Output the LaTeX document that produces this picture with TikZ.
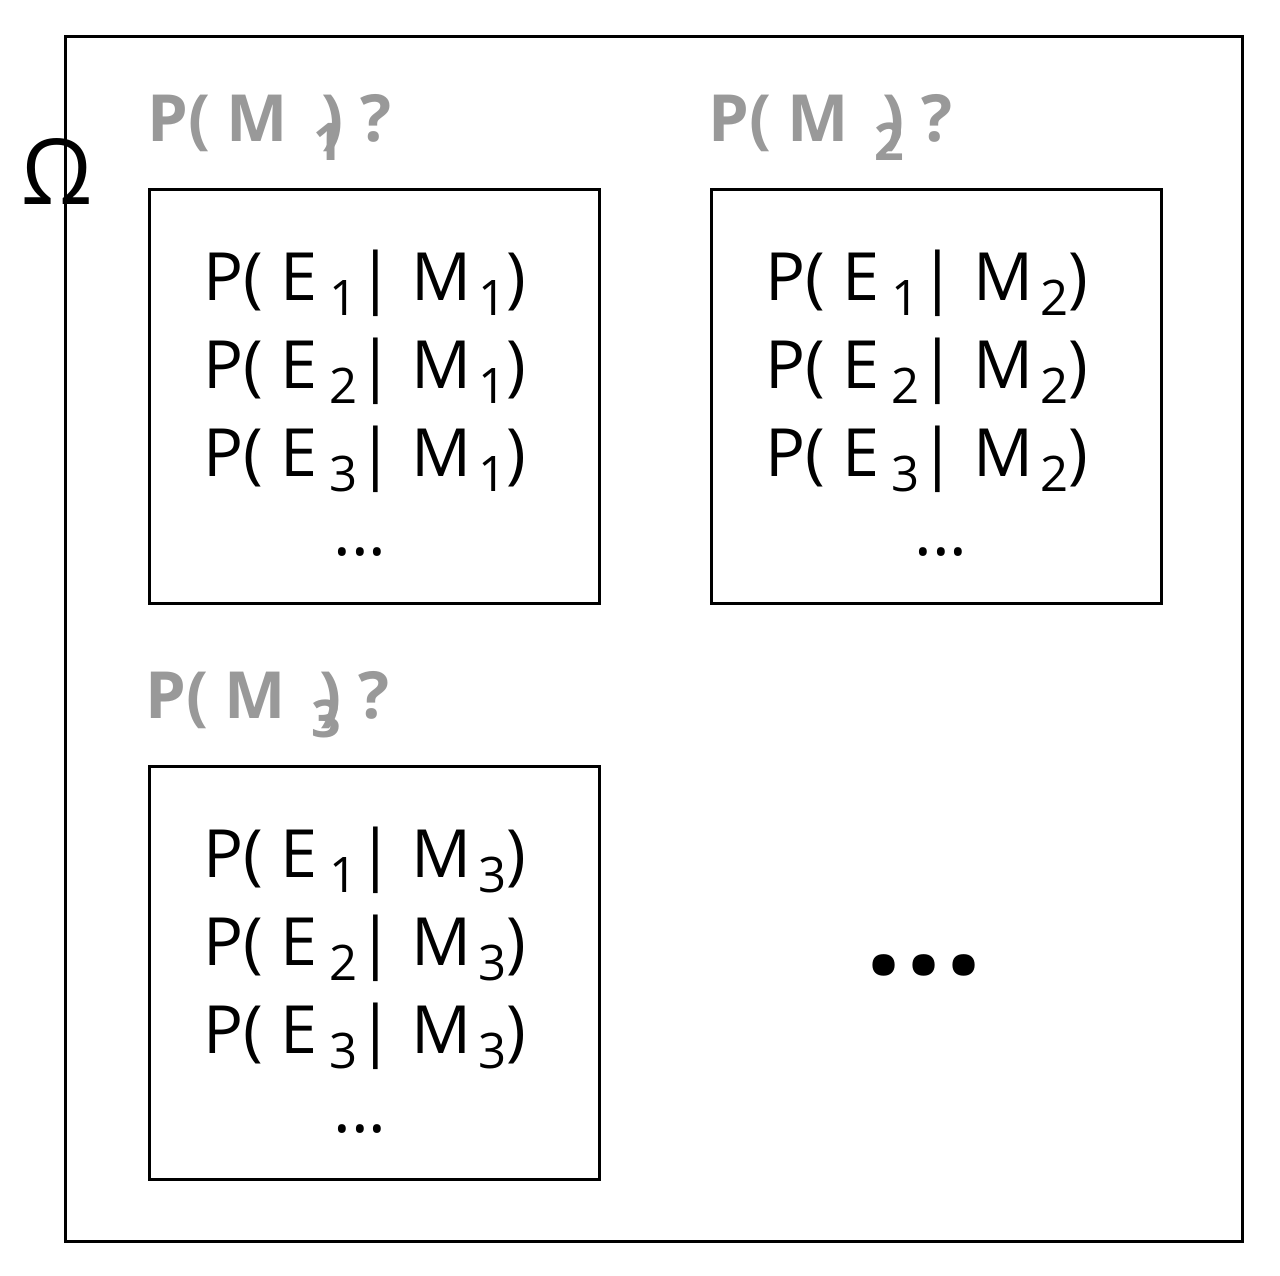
\documentclass[tikz,border=0pt]{standalone}
\usepackage{fontspec}
\setmainfont{Open Sans}
\definecolor{titlegray}{RGB}{153,153,153}
\newcommand{\sbs}[2][12pt]{\raisebox{-15pt}{\fontsize{49}{49}\selectfont\hspace{#1}#2}}
\newcommand{\tsb}[1]{\rlap{\hspace{-8pt}\raisebox{-19pt}{\fontsize{52}{52}\selectfont\bfseries #1}}}
\tikzset{
  frame/.style={draw=black, line width=3pt},
  cbox/.style={draw=black, line width=3pt},
  line/.style={font=\fontsize{66.5}{66.5}\selectfont, anchor=base west, inner sep=0pt},
  dots/.style={font=\fontsize{66.5}{66.5}\selectfont, anchor=base, inner sep=0pt},
  title/.style={font=\fontsize{65}{65}\selectfont\bfseries, text=titlegray, anchor=base west, inner sep=0pt},
}
\begin{document}
\begin{tikzpicture}[x=1pt,y=-1pt]
\useasboundingbox (0,0) rectangle (1280,1275);
\draw[frame] (65,36) rectangle (1242,1241);
\node[font=\fontsize{91}{91}\selectfont, anchor=base, inner sep=0pt] (omega) at (57,204) {Ω};
% boxes
\draw[cbox] (149,189) rectangle (599,603);
\draw[cbox] (711,189) rectangle (1161,603);
\draw[cbox] (149,766) rectangle (599,1179);
% titles
\node[title] (t1) at (147,141) {P( M\ \ \tsb{1}) ?};
\node[title] (t2) at (708,141) {P( M\ \ \tsb{2}) ?};
\node[title] (t3) at (145,718) {P( M\ \ \tsb{3}) ?};
% box 1
\node[line] (a1) at (203.5,300) {P( E\sbs{1}| M\sbs[7pt]{1})};
\node[line] (a2) at (203.5,388) {P( E\sbs{2}| M\sbs[7pt]{1})};
\node[line] (a3) at (203.5,476) {P( E\sbs{3}| M\sbs[7pt]{1})};
\node[dots] (ad) at (360,555) {...};
% box 2
\node[line] (b1) at (765.5,300) {P( E\sbs{1}| M\sbs[7pt]{2})};
\node[line] (b2) at (765.5,388) {P( E\sbs{2}| M\sbs[7pt]{2})};
\node[line] (b3) at (765.5,476) {P( E\sbs{3}| M\sbs[7pt]{2})};
\node[dots] (bd) at (941,555) {...};
% box 3
\node[line] (c1) at (203.5,877) {P( E\sbs{1}| M\sbs[7pt]{3})};
\node[line] (c2) at (203.5,965) {P( E\sbs{2}| M\sbs[7pt]{3})};
\node[line] (c3) at (203.5,1053) {P( E\sbs{3}| M\sbs[7pt]{3})};
\node[dots] (cd) at (360,1132) {...};
% big ellipsis
\node[font=\fontsize{130}{130}\selectfont\bfseries, anchor=base, inner sep=0pt] (more) at (924,974) {.\kern3pt.\kern3pt.};
\end{tikzpicture}
\end{document}
